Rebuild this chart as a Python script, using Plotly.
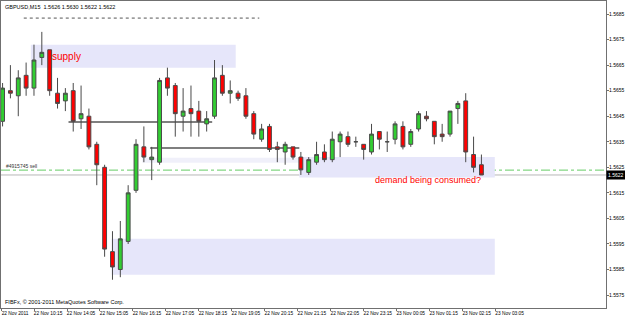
import plotly.graph_objects as go

SYMBOL = "GBPUSD,M15"
OPEN = [1.5643, 1.5655, 1.5653, 1.5661, 1.5656, 1.5668, 1.5671, 1.5654, 1.5651, 1.5655,
        1.5644, 1.5645, 1.5634, 1.5625, 1.5592, 1.5585, 1.5596, 1.5616, 1.5633, 1.5628,
        1.5627, 1.5660, 1.5657, 1.5645, 1.5648, 1.5647, 1.5642, 1.5645, 1.5661, 1.5654,
        1.5654, 1.5653, 1.5646, 1.5636, 1.5641, 1.5633, 1.5631, 1.5633, 1.5629, 1.5623,
        1.5627, 1.5631, 1.5628, 1.5635, 1.5637, 1.5635, 1.5634, 1.5631, 1.5639, 1.5635,
        1.5636, 1.5641, 1.5634, 1.5640, 1.5645, 1.5643, 1.5638, 1.5638, 1.5648, 1.5651,
        1.5630, 1.5626]
HIGH = [1.5658, 1.5665, 1.5663, 1.5666, 1.5673, 1.5678, 1.5671, 1.5660, 1.5656, 1.5658,
        1.5657, 1.5648, 1.5635, 1.5626, 1.5600, 1.5604, 1.5618, 1.5636, 1.5641, 1.5633,
        1.5660, 1.5664, 1.5658, 1.5656, 1.5657, 1.5651, 1.5647, 1.5667, 1.5665, 1.5659,
        1.5655, 1.5656, 1.5647, 1.5642, 1.5642, 1.5635, 1.5635, 1.5633, 1.5631, 1.5629,
        1.5635, 1.5634, 1.5639, 1.5639, 1.5639, 1.5637, 1.5634, 1.5642, 1.5639, 1.5639,
        1.5643, 1.5643, 1.5640, 1.5647, 1.5647, 1.5643, 1.5642, 1.5647, 1.5651, 1.5654,
        1.5637, 1.5630]
LOW = [1.5641, 1.5652, 1.5645, 1.5653, 1.5653, 1.5665, 1.5653, 1.5648, 1.5647, 1.5639,
       1.5640, 1.5632, 1.5618, 1.5590, 1.5581, 1.5582, 1.5595, 1.5615, 1.5627, 1.5620,
       1.5626, 1.5653, 1.5637, 1.5639, 1.5637, 1.5637, 1.5639, 1.5644, 1.5653, 1.5650,
       1.5651, 1.5644, 1.5636, 1.5635, 1.5631, 1.5627, 1.5626, 1.5628, 1.5622, 1.5622,
       1.5626, 1.5627, 1.5627, 1.5629, 1.5633, 1.5633, 1.5628, 1.5630, 1.5632, 1.5631,
       1.5634, 1.5632, 1.5633, 1.5639, 1.5643, 1.5634, 1.5635, 1.5637, 1.5642, 1.5627,
       1.5623, 1.5622]
CLOSE = [1.5656, 1.5654, 1.5660, 1.5656, 1.5667, 1.5670, 1.5655, 1.5650, 1.5654, 1.5643,
         1.5646, 1.5633, 1.5626, 1.5593, 1.5586, 1.5597, 1.5615, 1.5634, 1.5629, 1.5629,
         1.5659, 1.5656, 1.5646, 1.5647, 1.5646, 1.5643, 1.5644, 1.5660, 1.5654, 1.5655,
         1.5652, 1.5645, 1.5638, 1.5640, 1.5632, 1.5632, 1.5634, 1.5629, 1.5624, 1.5628,
         1.5630, 1.5628, 1.5636, 1.5638, 1.5634, 1.5635, 1.5632, 1.5638, 1.5636, 1.5635,
         1.5642, 1.5633, 1.5639, 1.5646, 1.5644, 1.5637, 1.5637, 1.5647, 1.5650, 1.5631,
         1.5625, 1.5622]
BARS = list(range(len(OPEN)))

TIME_LABELS = ["22 Nov 2011", "22 Nov 10:15", "22 Nov 14:05", "22 Nov 15:05", "22 Nov 16:15",
               "22 Nov 17:05", "22 Nov 18:15", "22 Nov 19:05", "22 Nov 20:15", "22 Nov 21:15",
               "22 Nov 22:05", "22 Nov 23:15", "23 Nov 00:05", "23 Nov 01:15", "23 Nov 02:15",
               "23 Nov 03:05"]
BARS_PER_LABEL = 4.2

# zones / objects: (bar_from, bar_to, price_low, price_high)
SUPPLY_ZONE = (3.6, 29.7, 1.5664, 1.5673)
DEMAND_ZONE_LOW = (13.9, 62.7, 1.5583, 1.5597)
DEMAND_ZONE_HIGH = (37.8, 62.7, 1.5621, 1.5629)
DEMAND_ZONE_FAINT = (17.8, 37.8, 1.56268, 1.56287)
HLINE_1 = (8.4, 26.7, 1.56427)
HLINE_2 = (18.8, 37.8, 1.56326)
DOTTED_LINE = (2.7, 32.7, 1.56834)
ORDER_LEVEL = 1.56239
ORDER_TEXT = "#4915745 sell"
COPYRIGHT = "FIBFx, © 2001-2011 MetaQuotes Software Corp."

SMALL = "Liberation Sans Narrow, Arial Narrow, Liberation Sans, Arial, sans-serif"

fig = go.Figure()
fig.add_trace(go.Candlestick(
    x=BARS, open=OPEN, high=HIGH, low=LOW, close=CLOSE,
    increasing=dict(line=dict(color="#4a4a4a", width=1), fillcolor="#32CD32"),
    decreasing=dict(line=dict(color="#4a4a4a", width=1), fillcolor="#FF0000"),
    whiskerwidth=0, hoverinfo="skip", showlegend=False,
))

shapes = []
for z, col in [(SUPPLY_ZONE, "#E6E6FA"), (DEMAND_ZONE_LOW, "#E6E6FA"),
               (DEMAND_ZONE_HIGH, "#E6E6FA"), (DEMAND_ZONE_FAINT, "#F0F0FA")]:
    shapes.append(dict(type="rect", xref="x", yref="y", x0=z[0], x1=z[1], y0=z[2], y1=z[3],
                       fillcolor=col, line=dict(width=0), layer="below"))
for l in (HLINE_1, HLINE_2):
    shapes.append(dict(type="line", xref="x", yref="y", x0=l[0], x1=l[1], y0=l[2], y1=l[2],
                       line=dict(color="#555555", width=1.5), layer="below"))
shapes.append(dict(type="line", xref="x", yref="y", x0=DOTTED_LINE[0], x1=DOTTED_LINE[1],
                   y0=DOTTED_LINE[2], y1=DOTTED_LINE[2],
                   line=dict(color="#555555", width=1, dash="dot")))
shapes.append(dict(type="line", xref="paper", yref="y", x0=0, x1=1, y0=ORDER_LEVEL, y1=ORDER_LEVEL,
                   line=dict(color="#66CC66", width=1, dash="dashdot"), layer="below"))
shapes.append(dict(type="line", xref="paper", yref="y", x0=0, x1=1, y0=CLOSE[-1], y1=CLOSE[-1],
                   line=dict(color="#B8B8B8", width=1), layer="below"))

annotations = [
    dict(xref="paper", yref="paper", x=0, y=1, xanchor="left", yanchor="top", xshift=2, yshift=-1,
         text=f"{SYMBOL}  {OPEN[-1]:.4f} {HIGH[-1]:.4f} {LOW[-1]:.4f} {CLOSE[-1]:.4f}",
         showarrow=False, font=dict(family=SMALL, size=5.5, color="#000000")),
    dict(xref="paper", yref="paper", x=0, y=0, xanchor="left", yanchor="bottom", xshift=2, yshift=1,
         text=COPYRIGHT, showarrow=False, font=dict(family=SMALL, size=5.5, color="#000000")),
    dict(xref="paper", yref="y", x=0, y=ORDER_LEVEL, xanchor="left", yanchor="bottom", xshift=3, yshift=-1,
         text=ORDER_TEXT, showarrow=False, font=dict(family=SMALL, size=5, color="#333333")),
    dict(xref="x", yref="y", x=SUPPLY_ZONE[0] + 2.4, y=(SUPPLY_ZONE[2] + SUPPLY_ZONE[3]) / 2,
         xanchor="left", yanchor="middle", text="supply", showarrow=False,
         font=dict(family="Arial, Liberation Sans", size=10, color="#FF0000")),
    dict(xref="x", yref="y", x=47.2, y=1.5620, xanchor="left", yanchor="middle",
         text="demand being consumed?", showarrow=False,
         font=dict(family="Arial, Liberation Sans", size=9, color="#FF0000")),
    dict(xref="paper", yref="y", x=1, y=CLOSE[-1], xanchor="left", yanchor="middle", xshift=0,
         text=f"{CLOSE[-1]:.4f}", showarrow=False, bgcolor="#000000", borderpad=1,
         font=dict(family=SMALL, size=5, color="#FFFFFF")),
]

tickvals = [k * BARS_PER_LABEL - 0.19 for k in range(len(TIME_LABELS))]

fig.update_layout(
    width=625, height=317,
    margin=dict(l=1, r=19, t=1, b=9, autoexpand=False),
    paper_bgcolor="#FFFFFF", plot_bgcolor="#FFFFFF",
    shapes=shapes, annotations=annotations,
    showlegend=False, hovermode=False,
    xaxis=dict(range=[-0.2, 76.87], rangeslider=dict(visible=False), showgrid=False, zeroline=False,
               showline=True, linecolor="#707070", linewidth=1, mirror=True, automargin=False,
               tickmode="array", tickvals=tickvals, ticktext=TIME_LABELS, tickangle=0,
               ticks="outside", ticklen=2, tickcolor="#707070", ticklabelshift=14,
               ticklabelstandoff=-2,
               tickfont=dict(family=SMALL, size=4.8, color="#000000")),
    yaxis=dict(range=[1.556954 + 0.00004, 1.569009], side="right", showgrid=False, zeroline=False,
               showline=True, linecolor="#707070", linewidth=1, mirror=True, automargin=False,
               tick0=1.5575, dtick=0.001, tickformat=".4f",
               ticks="outside", ticklen=2, tickcolor="#707070", ticklabelstandoff=-1,
               tickfont=dict(family=SMALL, size=5, color="#000000")),
)

fig.write_html("out.html", config={"displayModeBar": False})
